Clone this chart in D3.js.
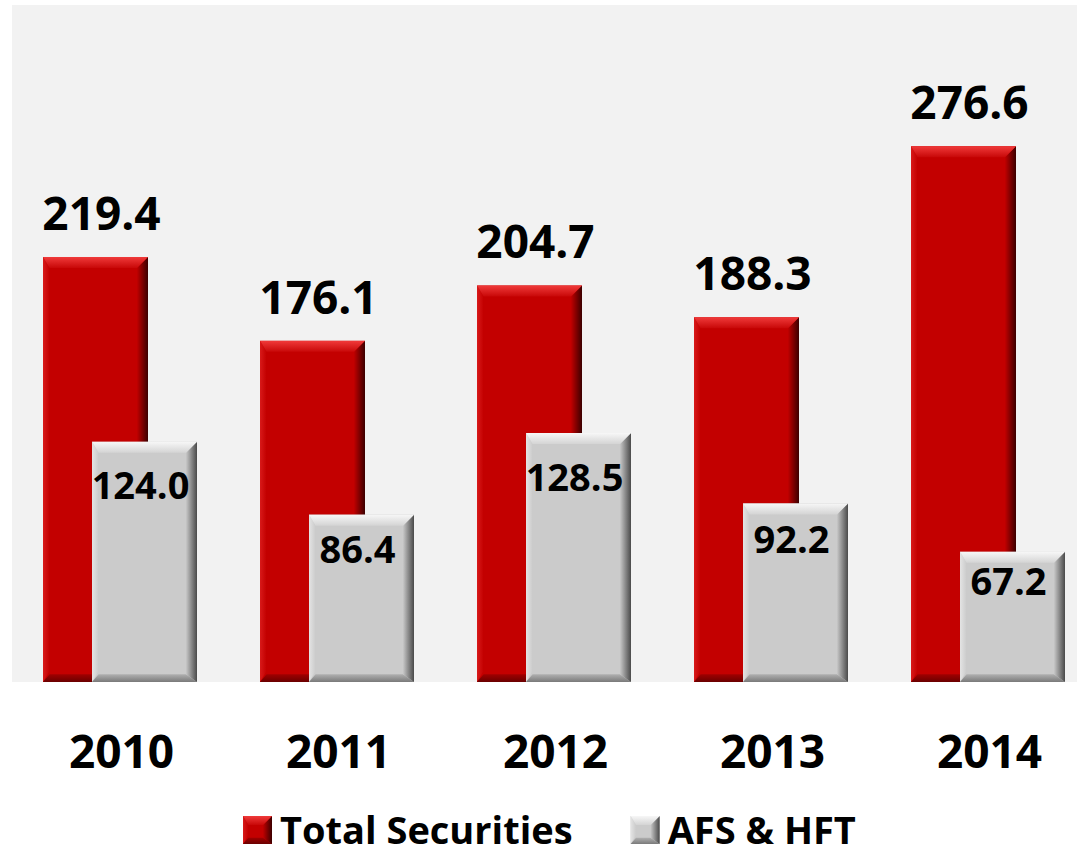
<!DOCTYPE html>
<html>
<head>
<meta charset="utf-8">
<script src="https://cdn.jsdelivr.net/npm/d3@7"></script>
<style>
  html, body { margin: 0; padding: 0; background: #fff; }
  text { font-family: "Open Sans", "DejaVu Sans", sans-serif; font-weight: 700; fill: #000; }
</style>
</head>
<body>
<div id="chart"></div>
<script>
const years = ["2010", "2011", "2012", "2013", "2014"];
const totalSecurities = [219.4, 176.1, 204.7, 188.3, 276.6];
const afsHft = [124.0, 86.4, 128.5, 92.2, 67.2];
const seriesNames = ["Total Securities", "AFS & HFT"];

const width = 1077;
const height = 854;

const svg = d3.select("#chart")
  .append("svg")
  .attr("width", width)
  .attr("height", height);

const defs = svg.append("defs");

// colour sets for the bevelled bars
const palette = {
  red: { base: "#c30000", top: ["#f03a3a", "#c80808"], right: ["#c00000", "#3c0000"], left: ["#d81a1a", "#c30000"], bottom: ["#a00000", "#6a0000"] },
  gray: { base: "#cbcbcb", top: ["#f7f7f7", "#d4d4d4"], right: ["#c8c8c8", "#4a4a4a"], left: ["#e4e4e4", "#cbcbcb"], bottom: ["#b0b0b0", "#7a7a7a"] }
};

function addGradient(id, stops, vertical) {
  const g = defs.append("linearGradient")
    .attr("id", id)
    .attr("x1", 0).attr("y1", 0)
    .attr("x2", vertical ? 0 : 1).attr("y2", vertical ? 1 : 0);
  g.append("stop").attr("offset", "0%").attr("stop-color", stops[0]);
  g.append("stop").attr("offset", "100%").attr("stop-color", stops[1]);
}

Object.entries(palette).forEach(([k, p]) => {
  addGradient(k + "-top", p.top, true);
  addGradient(k + "-right", p.right, false);
  addGradient(k + "-left", p.left, false);
  addGradient(k + "-bottom", p.bottom, true);
});

function bevelBar(g, x, y, w, h, key, b) {
  const p = palette[key];
  g.append("rect").attr("x", x).attr("y", y).attr("width", w).attr("height", h).attr("fill", p.base);
  const pts = arr => arr.map(d => d.join(",")).join(" ");
  g.append("polygon").attr("fill", `url(#${key}-left)`)
    .attr("points", pts([[x, y], [x + b * 0.6, y + b], [x + b * 0.6, y + h - b], [x, y + h]]));
  g.append("polygon").attr("fill", `url(#${key}-bottom)`)
    .attr("points", pts([[x, y + h], [x + b * 0.6, y + h - b * 0.7], [x + w - b, y + h - b * 0.7], [x + w, y + h]]));
  g.append("polygon").attr("fill", `url(#${key}-right)`)
    .attr("points", pts([[x + w, y], [x + w, y + h], [x + w - b, y + h - b * 0.7], [x + w - b, y + b]]));
  g.append("polygon").attr("fill", `url(#${key}-top)`)
    .attr("points", pts([[x, y], [x + w, y], [x + w - b, y + b], [x + b * 0.6, y + b]]));
}

// scales
const x = d3.scaleBand()
  .domain(years)
  .range([13, 1098])
  .padding(0);

const inner = d3.scalePoint()
  .domain(seriesNames)
  .range([30, 79]);

const barWidth = 105;

const y = d3.scaleLinear()
  .domain([0, 350])
  .range([682, 4]);

// plot area background
svg.append("rect")
  .attr("x", 12)
  .attr("y", y(350) + 1)
  .attr("width", width - 12)
  .attr("height", y(0) - y(350) - 1)
  .attr("fill", "#f2f2f2");

const data = years.map((yr, i) => ({ year: yr, total: totalSecurities[i], afs: afsHft[i] }));

// red bars
const redG = svg.append("g");
data.forEach(d => {
  const bx = x(d.year) + inner(seriesNames[0]);
  bevelBar(redG, bx, y(d.total), barWidth, y(0) - y(d.total), "red", 11);
});

// gray bars
const grayG = svg.append("g");
data.forEach(d => {
  const bx = x(d.year) + inner(seriesNames[1]);
  bevelBar(grayG, bx, y(d.afs), barWidth, y(0) - y(d.afs), "gray", 11);
});

// value labels
svg.append("g").selectAll("text")
  .data(data)
  .join("text")
  .attr("x", d => x(d.year) + inner(seriesNames[0]) + barWidth / 2 + 6)
  .attr("y", d => y(d.total) - 27)
  .attr("text-anchor", "middle")
  .style("font-size", "46px")
  .text(d => d.total.toFixed(1));

svg.append("g").selectAll("text")
  .data(data)
  .join("text")
  .attr("x", d => x(d.year) + inner(seriesNames[1]) + barWidth / 2 - 4)
  .attr("y", d => y(d.afs) + 28 + 0.12 * (y(0) - y(d.afs)))
  .attr("text-anchor", "middle")
  .style("font-size", "38px")
  .text(d => d.afs.toFixed(1));

// category axis
const xAxis = d3.axisBottom(x).tickSize(0).tickPadding(0);
const axisG = svg.append("g")
  .attr("transform", `translate(0,${y(0)})`)
  .call(xAxis);
axisG.select(".domain").remove();
axisG.selectAll("text")
  .attr("dy", null)
  .attr("y", 86)
  .attr("font-family", null)
  .style("font-size", "46px");

// legend
const legend = svg.append("g").attr("transform", "translate(243,0)");
let lx = 0;
seriesNames.forEach((name, i) => {
  const key = i === 0 ? "red" : "gray";
  const item = legend.append("g").attr("transform", `translate(${lx},0)`);
  bevelBar(item, 0, 816, 29, 28, key, 9);
  const t = item.append("text")
    .attr("x", 37)
    .attr("y", 844)
    .style("font-size", "38px")
    .text(name);
  lx += 37 + t.node().getComputedTextLength() + 58;
});
</script>
</body>
</html>
